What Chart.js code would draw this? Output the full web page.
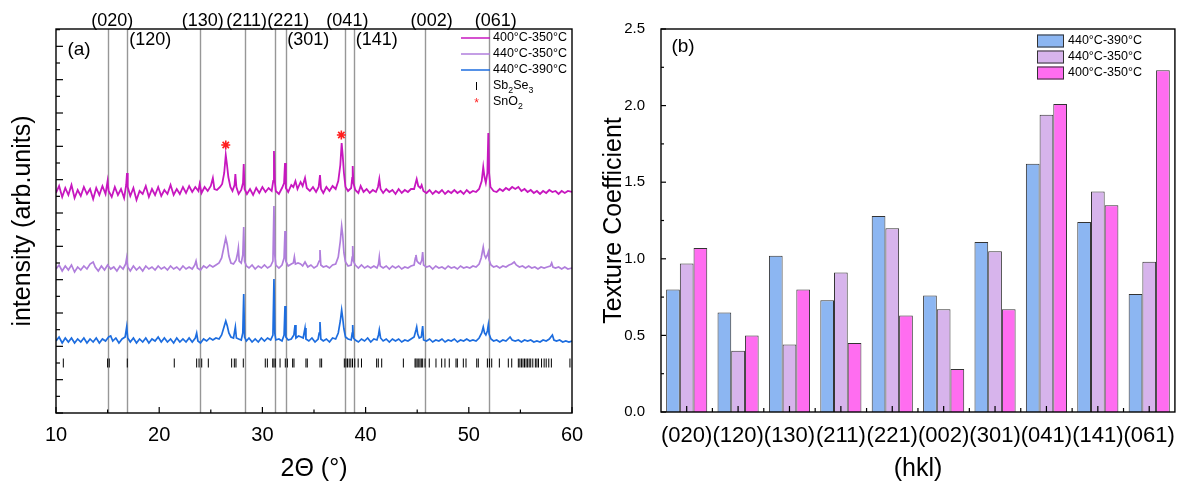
<!DOCTYPE html>
<html>
<head>
<meta charset="utf-8">
<script src="https://cdn.jsdelivr.net/npm/chart.js@4.4.1/dist/chart.umd.min.js"></script>
<style>
  body { margin: 0; background: #fff; }
  #wrap { position: relative; width: 1178px; height: 481px; }
  canvas { position: absolute; top: 0; }
</style>
</head>
<body>
<div id="wrap">
  <canvas id="xrd" width="590" height="481" style="left:0"></canvas>
  <canvas id="tc" width="588" height="481" style="left:590px"></canvas>
</div>
<script>
// ---------- panel (a) : XRD patterns, [2theta, intensity] (arb. units, offset stacks) ----------
const trace400_350 = [[10.0,220],[10.3,227],[10.6,216],[10.9,225],[11.2,218],[11.5,228],[11.8,215],[12.1,223],[12.4,217],[12.7,226],[13.0,219],[13.3,224],[13.6,214],[13.9,225],[14.2,218],[14.5,227],[14.8,219],[15.0,232],[15.1,222],[15.4,216],[15.7,226],[16.0,218],[16.3,224],[16.6,215],[16.8,228],[16.88,240],[16.95,226],[17.2,217],[17.5,225],[17.8,213],[18.1,222],[18.4,219],[18.7,227],[19.0,216],[19.3,224],[19.6,218],[19.9,226],[20.2,217],[20.5,223],[20.8,219],[21.1,228],[21.4,218],[21.7,224],[22.0,219],[22.3,226],[22.6,220],[22.9,227],[23.2,221],[23.5,226],[23.8,222],[23.92,229],[24.1,220],[24.4,226],[24.7,222],[25.0,227],[25.2,235],[25.35,224],[25.6,223],[25.9,226],[26.1,229],[26.3,240],[26.45,258],[26.55,250],[26.7,236],[26.9,226],[27.1,222],[27.3,228],[27.38,239],[27.48,226],[27.7,219],[27.95,223],[28.12,230],[28.19,249],[28.27,224],[28.5,219],[28.8,224],[29.1,218],[29.4,225],[29.7,220],[30.0,226],[30.3,221],[30.6,225],[30.9,222],[31.05,232],[31.12,262],[31.2,232],[31.3,222],[31.6,219],[31.9,225],[32.1,230],[32.19,250],[32.27,225],[32.5,221],[32.8,228],[33.0,226],[33.2,232],[33.4,224],[33.7,231],[33.9,227],[34.13,235],[34.3,225],[34.6,222],[34.9,226],[35.2,221],[35.45,226],[35.58,238],[35.68,224],[35.9,220],[36.2,226],[36.5,222],[36.8,227],[37.1,224],[37.35,232],[37.55,248],[37.68,270],[37.78,258],[37.9,240],[38.05,226],[38.3,222],[38.6,225],[38.7,235],[38.75,247],[38.82,230],[39.0,223],[39.3,220],[39.52,227],[39.8,221],[40.1,224],[40.4,220],[40.7,223],[41.0,221],[41.2,226],[41.33,234],[41.45,224],[41.7,220],[42.0,224],[42.3,221],[42.6,223],[42.9,219],[43.2,224],[43.5,220],[43.8,223],[44.1,221],[44.4,224],[44.7,224],[44.95,234],[45.1,227],[45.3,225],[45.43,228],[45.6,222],[45.9,220],[46.2,223],[46.5,219],[46.8,222],[47.1,220],[47.4,223],[47.7,219],[48.0,222],[48.3,220],[48.6,223],[48.9,220],[49.2,222],[49.5,219],[49.8,223],[50.1,220],[50.4,222],[50.7,221],[51.0,224],[51.25,232],[51.4,246],[51.52,236],[51.65,230],[51.8,240],[51.89,280],[51.97,240],[52.1,226],[52.4,222],[52.7,221],[53.0,224],[53.3,222],[53.6,225],[53.9,223],[54.2,226],[54.5,224],[54.8,226],[55.1,222],[55.4,224],[55.7,221],[56.0,223],[56.3,220],[56.6,222],[56.9,219],[57.2,222],[57.5,220],[57.8,223],[58.1,221],[58.4,222],[58.7,219],[59.0,222],[59.3,220],[59.6,222],[60.0,221]];

const trace440_350 = [[10.0,144],[10.3,148],[10.6,142],[10.9,147],[11.2,143],[11.5,148],[11.8,141],[12.1,146],[12.4,143],[12.7,147],[13.0,144],[13.3,149],[13.6,151],[13.8,146],[14.1,142],[14.4,147],[14.7,143],[15.0,148],[15.3,144],[15.6,146],[15.9,142],[16.2,147],[16.5,144],[16.75,149],[16.85,155],[16.95,146],[17.2,142],[17.5,147],[17.8,143],[18.1,146],[18.4,142],[18.7,147],[19.0,144],[19.3,146],[19.6,143],[19.9,147],[20.2,144],[20.5,146],[20.8,143],[21.1,147],[21.4,144],[21.7,146],[22.0,143],[22.3,147],[22.6,144],[22.9,146],[23.2,144],[23.45,148],[23.57,152],[23.7,145],[24.0,143],[24.3,147],[24.6,145],[24.9,148],[25.2,146],[25.5,148],[25.8,150],[26.05,155],[26.25,165],[26.45,175],[26.6,168],[26.75,157],[26.95,150],[27.2,149],[27.45,153],[27.6,160],[27.67,165],[27.75,152],[27.95,150],[28.1,158],[28.19,186],[28.27,152],[28.45,147],[28.7,145],[29.0,148],[29.3,144],[29.6,147],[29.9,145],[30.2,148],[30.5,145],[30.8,147],[31.02,152],[31.12,207],[31.2,158],[31.3,148],[31.6,145],[31.9,148],[32.1,155],[32.19,182],[32.27,152],[32.5,147],[32.8,149],[33.0,150],[33.1,156],[33.2,149],[33.45,150],[33.7,149],[33.9,147],[34.13,151],[34.4,146],[34.7,148],[35.0,145],[35.3,147],[35.5,152],[35.58,163],[35.66,148],[35.9,146],[36.2,147],[36.5,145],[36.8,148],[37.1,149],[37.35,156],[37.55,172],[37.68,187],[37.78,178],[37.9,160],[38.05,151],[38.3,147],[38.6,148],[38.7,156],[38.75,167],[38.82,152],[39.0,148],[39.3,145],[39.6,148],[39.9,145],[40.2,147],[40.5,145],[40.8,147],[41.1,145],[41.25,149],[41.33,156],[41.42,147],[41.7,145],[42.0,147],[42.3,144],[42.6,147],[42.9,145],[43.2,147],[43.5,144],[43.8,146],[44.1,145],[44.4,147],[44.7,148],[44.82,155],[44.88,158],[44.98,152],[45.15,150],[45.3,149],[45.45,153],[45.53,161],[45.62,148],[45.9,146],[46.2,147],[46.5,144],[46.8,147],[47.1,145],[47.4,146],[47.7,144],[48.0,147],[48.3,145],[48.6,146],[48.9,144],[49.2,147],[49.5,145],[49.8,146],[50.1,145],[50.4,147],[50.7,146],[51.0,149],[51.2,155],[51.4,166],[51.52,158],[51.65,155],[51.8,158],[51.89,161],[51.97,153],[52.15,148],[52.4,146],[52.7,147],[53.0,145],[53.3,147],[53.6,146],[53.9,148],[54.15,149],[54.4,151],[54.6,148],[54.9,146],[55.2,147],[55.5,145],[55.8,147],[56.1,145],[56.4,146],[56.7,144],[57.0,146],[57.3,145],[57.6,146],[57.9,147],[58.03,150],[58.15,146],[58.4,145],[58.7,146],[59.0,144],[59.3,146],[59.6,144],[60.0,145]];

const trace440_390 = [[10.0,72],[10.3,76],[10.6,70],[10.9,75],[11.2,71],[11.5,75],[11.8,70],[12.1,74],[12.4,71],[12.7,75],[13.0,70],[13.3,74],[13.6,71],[13.9,75],[14.2,70],[14.5,74],[14.8,72],[15.1,76],[15.3,77],[15.5,72],[15.8,75],[16.1,70],[16.4,74],[16.7,76],[16.85,86],[16.95,75],[17.2,71],[17.5,75],[17.8,70],[18.1,74],[18.4,71],[18.7,75],[19.0,70],[19.3,74],[19.6,72],[19.9,76],[20.2,71],[20.5,75],[20.8,71],[21.1,74],[21.4,70],[21.7,75],[22.0,71],[22.3,74],[22.6,71],[22.9,75],[23.2,71],[23.5,75],[23.63,80],[23.75,72],[24.0,70],[24.3,74],[24.6,72],[24.9,75],[25.2,73],[25.5,75],[25.8,74],[26.05,78],[26.25,85],[26.45,92],[26.6,87],[26.75,80],[26.95,76],[27.2,75],[27.38,86],[27.48,75],[27.7,74],[27.95,73],[28.1,80],[28.19,119],[28.27,76],[28.45,72],[28.7,75],[29.0,71],[29.3,74],[29.6,71],[29.9,75],[30.2,72],[30.5,75],[30.8,73],[31.02,78],[31.12,134],[31.2,80],[31.3,73],[31.6,74],[31.9,72],[32.1,78],[32.19,107],[32.27,76],[32.5,73],[32.8,74],[33.05,78],[33.16,88],[33.25,75],[33.5,77],[33.75,76],[33.95,75],[34.13,85],[34.22,74],[34.5,72],[34.8,75],[35.1,71],[35.4,74],[35.5,80],[35.58,91],[35.66,74],[35.9,72],[36.2,74],[36.5,71],[36.8,75],[37.1,74],[37.35,80],[37.55,92],[37.68,103],[37.78,95],[37.9,84],[38.05,76],[38.3,74],[38.6,73],[38.7,80],[38.75,88],[38.82,75],[39.0,73],[39.3,71],[39.6,74],[39.9,72],[40.2,75],[40.5,71],[40.8,74],[41.1,73],[41.25,78],[41.33,83],[41.45,75],[41.7,72],[42.0,74],[42.3,71],[42.6,74],[42.9,72],[43.2,74],[43.5,71],[43.8,73],[44.1,72],[44.4,74],[44.7,76],[44.88,83],[44.95,86],[45.05,79],[45.2,75],[45.4,76],[45.53,87],[45.62,73],[45.9,72],[46.2,74],[46.5,71],[46.8,73],[47.1,72],[47.4,74],[47.7,71],[48.0,73],[48.3,72],[48.6,74],[48.9,71],[49.2,73],[49.5,72],[49.8,74],[50.1,72],[50.4,73],[50.7,72],[51.0,75],[51.25,80],[51.4,86],[51.52,80],[51.65,78],[51.8,82],[51.89,88],[51.97,79],[52.15,74],[52.4,72],[52.7,73],[53.0,71],[53.3,73],[53.6,72],[53.9,75],[54.0,76],[54.2,73],[54.5,72],[54.8,73],[55.1,71],[55.4,73],[55.7,72],[56.0,73],[56.3,71],[56.6,72],[56.9,71],[57.2,73],[57.5,72],[57.8,74],[58.1,78],[58.25,73],[58.5,72],[58.8,73],[59.1,71],[59.4,72],[59.7,71],[60.0,72]];

// Sb2Se3 reference reflections (2theta) and the level where their bars sit
const sb2se3Peaks = [10.71,15.0,15.16,16.91,21.46,23.63,23.86,24.12,24.76,27.02,27.28,27.44,28.15,30.28,30.48,31.0,31.12,31.25,31.71,32.22,32.42,32.93,33.06,34.22,34.35,35.58,35.74,37.94,38.1,38.25,38.41,38.57,38.73,38.95,39.28,39.6,41.07,41.23,41.56,43.66,44.79,44.88,45.0,45.15,45.27,45.4,45.53,45.76,46.17,46.82,47.37,47.69,48.11,48.76,48.89,49.47,49.73,50.77,50.92,51.8,52.0,52.22,52.96,53.83,54.16,54.8,54.95,55.1,55.25,55.4,55.55,55.7,55.85,56.0,56.2,56.45,56.6,56.75,57.05,57.3,57.5,57.75,58.0,59.8];
const sb2se3Level = 50;

// SnO2 peaks marked with a star
const sno2Marks = [[26.45,268],[37.65,278]];

// hkl reference lines
const hklLines = ['(020)','(120)','(130)','(211)','(221)','(301)','(041)','(141)','(002)','(061)'];
const hklPos = [15.07,16.91,23.92,28.28,31.25,32.32,38.04,38.85,45.72,51.93];

const xrdSeries = ['400°C-350°C','440°C-350°C','440°C-390°C'];

// ---------- panel (b) : texture coefficients ----------
const hklCats = ['(020)','(120)','(130)','(211)','(221)','(002)','(301)','(041)','(141)','(061)'];
const tc440_390 = [0.80,0.65,1.02,0.73,1.28,0.76,1.11,1.62,1.24,0.77];
const tc440_350 = [0.97,0.40,0.44,0.91,1.20,0.67,1.05,1.94,1.44,0.98];
const tc400_350 = [1.07,0.50,0.80,0.45,0.63,0.28,0.67,2.01,1.35,2.23];

Chart.defaults.font.family = '"Liberation Sans", Arial, sans-serif';
Chart.defaults.color = '#000';

const FONT = '"Liberation Sans", Arial, sans-serif';
const toXY = arr => arr.map(p => ({x: p[0], y: p[1]}));

// label placement for hkl names: pixel shift from the line, row (0 above frame, 1 inside)
const hklPlace = [[4,0],[23,1],[3,0],[2,0],[13,0],[22,1],[2,0],[23,1],[7,0],[7,0]];

function drawSubText(ctx, parts, x, y, size) {
  // parts: [text, isSub]
  let cx = x;
  parts.forEach(([t, sub]) => {
    ctx.font = (sub ? size * 0.7 : size) + 'px ' + FONT;
    ctx.fillText(t, cx, sub ? y + size * 0.35 : y);
    cx += ctx.measureText(t).width;
  });
}

const xrdDecor = {
  id: 'xrdDecor',
  beforeDatasetsDraw(chart) {
    const {ctx, chartArea: a, scales: {x}} = chart;
    ctx.save();
    ctx.strokeStyle = '#979797';
    ctx.lineWidth = 1.4;
    hklPos.forEach(v => {
      const px = Math.round(x.getPixelForValue(v)) + 0.5;
      ctx.beginPath(); ctx.moveTo(px, a.top); ctx.lineTo(px, a.bottom); ctx.stroke();
    });
    ctx.restore();
  },
  afterDraw(chart) {
    const {ctx, chartArea: a, scales: {x, y}} = chart;
    ctx.save();
    ctx.strokeStyle = '#000';
    ctx.lineWidth = 1.2;
    // inward ticks
    for (let v = 10; v <= 60; v += 5) {
      const px = x.getPixelForValue(v);
      const len = v % 10 === 0 ? 6 : 3.5;
      ctx.beginPath(); ctx.moveTo(px, a.bottom); ctx.lineTo(px, a.bottom - len); ctx.stroke();
    }
    for (let k = 0; k * 50 / 3 <= y.max; k++) {
      const py = y.getPixelForValue(k * 50 / 3);
      const len = k % 2 === 0 ? 7 : 4;
      ctx.beginPath(); ctx.moveTo(a.left, py); ctx.lineTo(a.left + len, py); ctx.stroke();
    }
    ctx.lineWidth = 1.4;
    ctx.strokeRect(a.left, a.top, a.right - a.left, a.bottom - a.top);

    // hkl names
    ctx.fillStyle = '#000';
    ctx.font = '18px ' + FONT;
    ctx.textAlign = 'center';
    ctx.textBaseline = 'middle';
    hklLines.forEach((t, i) => {
      const [dx, row] = hklPlace[i];
      ctx.fillText(t, x.getPixelForValue(hklPos[i]) + dx, row === 0 ? 21 : 40);
    });
    ctx.font = '19px ' + FONT;
    ctx.fillText('(a)', 79, 50);

    // legend
    const lx0 = 461, lx1 = 490, tx = 493;
    const rows = [38, 54, 70, 86, 102];
    ctx.textAlign = 'left';
    ctx.lineWidth = 1.5;
    xrdSeries.forEach((name, i) => {
      ctx.strokeStyle = chart.data.datasets[i].borderColor;
      ctx.beginPath(); ctx.moveTo(lx0, rows[i]); ctx.lineTo(lx1, rows[i]); ctx.stroke();
      ctx.font = '12.5px ' + FONT;
      ctx.fillText(name, tx, rows[i]);
    });
    ctx.strokeStyle = '#000';
    ctx.lineWidth = 1;
    ctx.beginPath(); ctx.moveTo(476.5, rows[3] - 4); ctx.lineTo(476.5, rows[3] + 4); ctx.stroke();
    drawSubText(ctx, [['Sb',0],['2',1],['Se',0],['3',1]], tx, rows[3], 12.5);
    ctx.fillStyle = '#ff1f1f';
    ctx.font = '12px ' + FONT;
    ctx.textAlign = 'center';
    ctx.fillText('*', 476.5, rows[4] + 2);
    ctx.fillStyle = '#000';
    ctx.textAlign = 'left';
    drawSubText(ctx, [['SnO',0],['2',1]], tx, rows[4], 12.5);
    ctx.restore();
  }
};

new Chart(document.getElementById('xrd'), {
  type: 'line',
  data: {
    datasets: [
      {label: xrdSeries[0], data: toXY(trace400_350), borderColor: '#c717bf', borderWidth: 1.8, pointRadius: 0, tension: 0},
      {label: xrdSeries[1], data: toXY(trace440_350), borderColor: '#b07edc', borderWidth: 1.7, pointRadius: 0, tension: 0},
      {label: xrdSeries[2], data: toXY(trace440_390), borderColor: '#1d6ddf', borderWidth: 1.7, pointRadius: 0, tension: 0},
      {type: 'scatter', label: 'Sb2Se3', data: sb2se3Peaks.map(v => ({x: v, y: sb2se3Level})),
        pointStyle: 'line', rotation: 90, radius: 4.5, borderColor: '#000', borderWidth: 1, showLine: false},
      {type: 'scatter', label: 'SnO2', data: toXY(sno2Marks),
        pointStyle: 'star', radius: 4.5, borderColor: '#ff1f1f', borderWidth: 1.6, showLine: false}
    ]
  },
  options: {
    responsive: false,
    animation: false,
    devicePixelRatio: 1,
    layout: {padding: {left: 0, right: 18, top: 29, bottom: 0}},
    plugins: {legend: {display: false}, tooltip: {enabled: false}},
    scales: {
      x: {
        type: 'linear', min: 10, max: 60,
        ticks: {stepSize: 10, font: {size: 20}, color: '#000', padding: 2, maxRotation: 0},
        grid: {display: false},
        border: {display: false},
        title: {display: true, text: '2Θ (°)', font: {size: 25, lineHeight: 1}, color: '#000', padding: {top: 0, bottom: -1}},
        afterFit: s => { s.height = 68; }
      },
      y: {
        min: 0, max: 384,
        ticks: {display: false},
        grid: {display: false},
        border: {display: false},
        title: {display: true, text: 'intensity (arb.units)', font: {size: 25, lineHeight: 1}, color: '#000', padding: {top: 11, bottom: 0}},
        afterFit: s => { s.width = 56; }
      }
    }
  },
  plugins: [xrdDecor]
});

const tcDecor = {
  id: 'tcDecor',
  afterDraw(chart) {
    const {ctx, chartArea: a, scales: {x, y}} = chart;
    ctx.save();
    ctx.strokeStyle = '#000';
    ctx.lineWidth = 1.2;
    for (let k = 0; k <= 10; k++) {
      const py = y.getPixelForValue(k * 0.25);
      const len = k % 2 === 0 ? 5 : 3;
      ctx.beginPath(); ctx.moveTo(a.left, py); ctx.lineTo(a.left + len, py); ctx.stroke();
    }
    for (let i = 0; i < hklCats.length; i++) {
      const pc = x.getPixelForValue(i);
      ctx.beginPath(); ctx.moveTo(pc, a.bottom); ctx.lineTo(pc, a.bottom - 6); ctx.stroke();
      if (i > 0) {
        const pb = x.getPixelForValue(i - 0.5);
        ctx.beginPath(); ctx.moveTo(pb, a.bottom); ctx.lineTo(pb, a.bottom - 4); ctx.stroke();
      }
    }
    ctx.lineWidth = 1.4;
    ctx.strokeRect(a.left, a.top, a.right - a.left, a.bottom - a.top);

    ctx.fillStyle = '#000';
    ctx.font = '19px ' + FONT;
    ctx.textAlign = 'center';
    ctx.textBaseline = 'middle';
    ctx.fillText('(b)', 93, 47);

    // legend
    const rows = [41, 57, 73];
    ctx.font = '12.5px ' + FONT;
    ctx.textAlign = 'left';
    ctx.lineWidth = 1;
    chart.data.datasets.forEach((ds, i) => {
      ctx.fillStyle = ds.backgroundColor;
      ctx.fillRect(447, rows[i] - 6.5, 27, 13);
      ctx.strokeStyle = '#333';
      ctx.strokeRect(447.5, rows[i] - 6, 26, 12);
      ctx.fillStyle = '#000';
      ctx.fillText(ds.label, 478, rows[i]);
    });
    ctx.restore();
  }
};

new Chart(document.getElementById('tc'), {
  type: 'bar',
  data: {
    labels: hklCats,
    datasets: [
      {label: '440°C-390°C', data: tc440_390, backgroundColor: '#8cb6f2', borderColor: '#333', borderWidth: 1},
      {label: '440°C-350°C', data: tc440_350, backgroundColor: '#d7b4ec', borderColor: '#333', borderWidth: 1},
      {label: '400°C-350°C', data: tc400_350, backgroundColor: '#ff6df0', borderColor: '#333', borderWidth: 1}
    ]
  },
  options: {
    responsive: false,
    animation: false,
    devicePixelRatio: 1,
    layout: {padding: {left: 0, right: 2, top: 29, bottom: 0}},
    plugins: {legend: {display: false}, tooltip: {enabled: false}},
    datasets: {bar: {categoryPercentage: 0.8, barPercentage: 1}},
    scales: {
      x: {
        ticks: {font: {size: 22}, color: '#000', padding: 3, autoSkip: false, maxRotation: 0, minRotation: 0},
        grid: {display: false},
        border: {display: false},
        title: {display: true, text: '(hkl)', font: {size: 25, lineHeight: 1}, color: '#000', padding: {top: 0, bottom: -1}},
        afterFit: s => { s.height = 69; }
      },
      y: {
        min: 0, max: 2.5,
        ticks: {stepSize: 0.5, font: {size: 15}, color: '#000', padding: 8, callback: v => v.toFixed(1)},
        grid: {display: false},
        border: {display: false},
        title: {display: true, text: 'Texture Coefficient', font: {size: 25, lineHeight: 1}, color: '#000', padding: {top: 12, bottom: 0}},
        afterFit: s => { s.width = 71; }
      }
    }
  },
  plugins: [tcDecor]
});
</script>
</body>
</html>
